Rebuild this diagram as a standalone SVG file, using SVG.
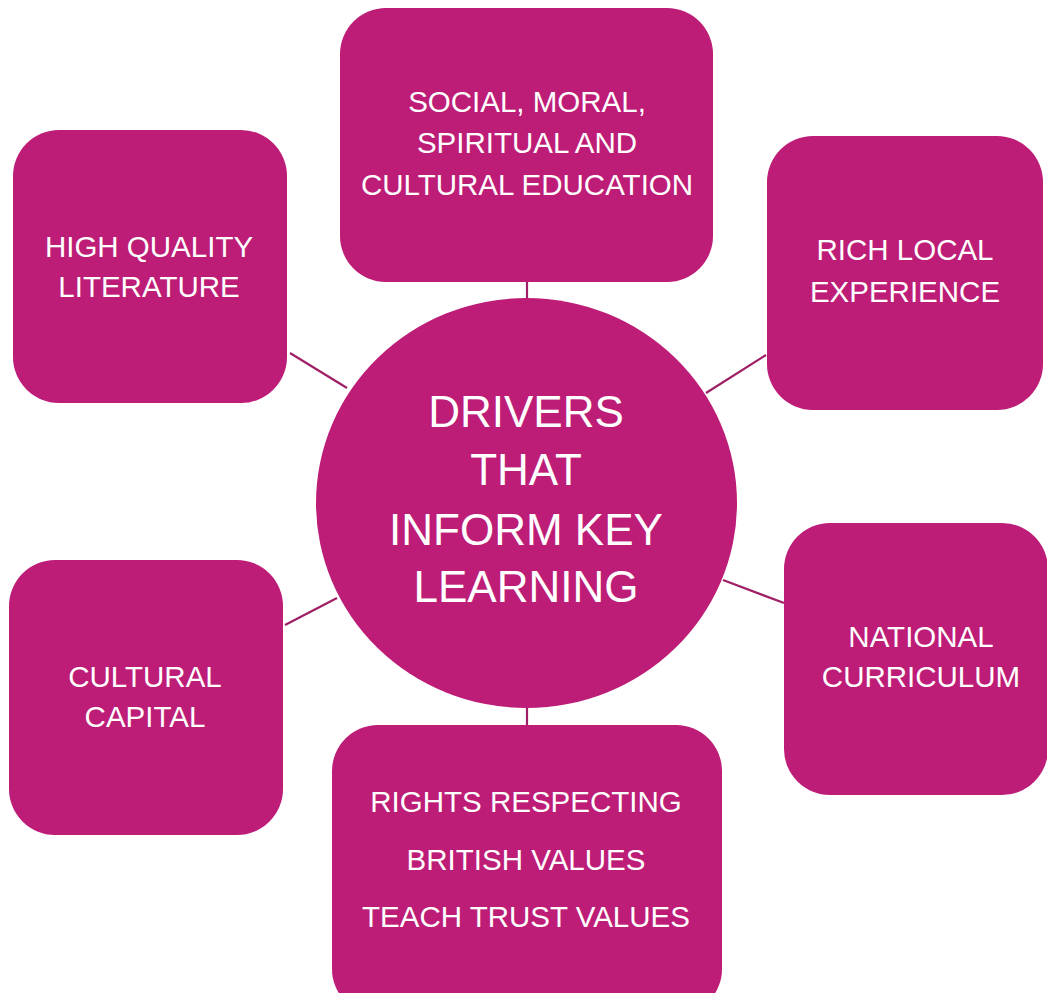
<svg xmlns="http://www.w3.org/2000/svg" width="1047" height="993" viewBox="0 0 1047 993">
<style>
.box{fill:#BD1C77}
.lbl{fill:#FFFFFF;font-family:"Liberation Sans",Arial,sans-serif;font-size:29.5px;text-anchor:middle}
.big{fill:#FFFFFF;font-family:"Liberation Sans",Arial,sans-serif;font-size:44px;text-anchor:middle}
.conn{stroke:#9E1F66;stroke-width:2.2;fill:none}
</style>
<rect width="1047" height="993" fill="#FFFFFF"/>
<g id="connectors">
<line class="conn" x1="527" y1="282" x2="527" y2="298"/>
<line class="conn" x1="290" y1="353" x2="347" y2="388"/>
<line class="conn" x1="766" y1="355" x2="706" y2="393"/>
<line class="conn" x1="723" y1="580" x2="784" y2="603"/>
<line class="conn" x1="285" y1="625" x2="337" y2="598"/>
<line class="conn" x1="527" y1="708" x2="527" y2="725"/>
</g>
<g id="center">
<ellipse class="box" cx="526.5" cy="503" rx="210.5" ry="205"/>
<text class="big" x="526" y="427">DRIVERS</text>
<text class="big" x="526" y="485">THAT</text>
<text class="big" x="526" y="545">INFORM KEY</text>
<text class="big" x="526" y="602">LEARNING</text>
</g>
<g id="smsc">
<rect class="box" x="340" y="8" width="373" height="274" rx="46"/>
<text class="lbl" x="527" y="112">SOCIAL, MORAL,</text>
<text class="lbl" x="527" y="153">SPIRITUAL AND</text>
<text class="lbl" x="527" y="195">CULTURAL EDUCATION</text>
</g>
<g id="literature">
<rect class="box" x="13" y="130" width="274" height="273" rx="46"/>
<text class="lbl" x="149" y="257">HIGH QUALITY</text>
<text class="lbl" x="149" y="297">LITERATURE</text>
</g>
<g id="local">
<rect class="box" x="767" y="136" width="276" height="274" rx="46"/>
<text class="lbl" x="905" y="260">RICH LOCAL</text>
<text class="lbl" x="905" y="302">EXPERIENCE</text>
</g>
<g id="national">
<rect class="box" x="784" y="523" width="264" height="272" rx="46"/>
<text class="lbl" x="921" y="647">NATIONAL</text>
<text class="lbl" x="921" y="687">CURRICULUM</text>
</g>
<g id="capital">
<rect class="box" x="9" y="560" width="274" height="275" rx="46"/>
<text class="lbl" x="145" y="687">CULTURAL</text>
<text class="lbl" x="145" y="727">CAPITAL</text>
</g>
<g id="values">
<rect class="box" x="332" y="725" width="390" height="290" rx="46"/>
<text class="lbl" x="526" y="812">RIGHTS RESPECTING</text>
<text class="lbl" x="526" y="870">BRITISH VALUES</text>
<text class="lbl" x="526" y="927">TEACH TRUST VALUES</text>
</g>
</svg>
